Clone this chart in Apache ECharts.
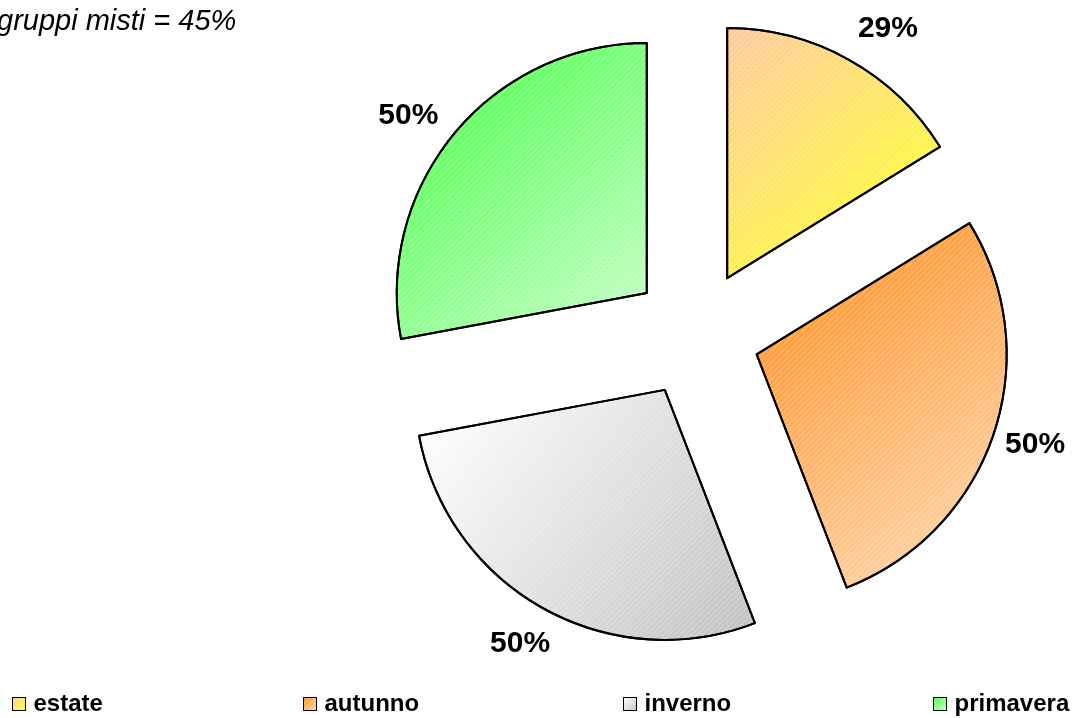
<!DOCTYPE html>
<html>
<head>
<meta charset="utf-8">
<script src="https://cdn.jsdelivr.net/npm/echarts@6/dist/echarts.min.js"></script>
<style>
  html, body { margin: 0; padding: 0; background: #fff; }
  #chart { width: 1079px; height: 718px; }
</style>
</head>
<body>
<div id="chart"></div>
<script>
// dati
var categories = ['estate', 'autunno', 'inverno', 'primavera'];
var values = [29, 50, 50, 50];
var titleText = 'gruppi misti = 45%';

// stile: colori del gradiente (alto-sinistra -> basso-destra)
var colorsFrom = ['#ffcc99', '#ff9933', '#ffffff', '#44ff44'];
var colorsTo = ['#ffff33', '#ffcc99', '#c0c0c0', '#ccffcc'];
var fromStop = [0.05, 0.18, 0.05, 0.05];
var toStop = [0.85, 0.8, 1, 1];
// stile: posizione legenda e piccoli spostamenti etichette
var legendLeft = [12, 303, 623, 933];
var labelNudge = [[16, 10], [-3, -4], [0, -6], [-10, 12]];

var chart = echarts.init(document.getElementById('chart'));

var hatch = {
  symbol: 'rect',
  symbolSize: 1,
  dashArrayX: [1, 0],
  dashArrayY: [1, 3],
  rotation: -Math.PI / 4,
  color: 'rgba(255,255,255,0.28)'
};

var pieData = categories.map(function (name, i) {
  return {
    name: name,
    value: values[i],
    selected: true,
    itemStyle: {
      color: new echarts.graphic.LinearGradient(0, 0, 1, 1, [
        { offset: fromStop[i], color: colorsFrom[i] },
        { offset: toStop[i], color: colorsTo[i] }
      ]),
      decal: hatch
    }
  };
});

var labelData = categories.map(function (name, i) {
  return { name: name, value: values[i], label: { offset: labelNudge[i] } };
});

var legends = categories.map(function (name, i) {
  return {
    data: [name],
    left: legendLeft[i],
    top: 692,
    padding: 0,
    icon: 'rect',
    itemWidth: 13,
    itemHeight: 13,
    itemGap: 0,
    selectedMode: false,
    itemStyle: { borderColor: '#000', borderWidth: 1 },
    textStyle: {
      fontFamily: 'Liberation Sans, Arial, sans-serif',
      fontWeight: 'bold',
      fontSize: 24,
      color: '#000',
      padding: [0, 0, 0, 3]
    }
  };
});

chart.setOption({
  animation: false,
  aria: { enabled: true, decal: { show: true } },
  title: {
    text: titleText,
    left: -3,
    top: 7,
    padding: 0,
    textStyle: {
      fontFamily: 'Liberation Sans, Arial, sans-serif',
      fontStyle: 'italic',
      fontWeight: 'normal',
      fontSize: 29,
      color: '#000'
    }
  },
  legend: legends,
  series: [
    {
      type: 'pie',
      center: [696, 334],
      radius: [0, 250],
      startAngle: 90,
      clockwise: true,
      selectedMode: 'multiple',
      selectedOffset: 64,
      emphasis: { disabled: true },
      itemStyle: { borderColor: '#000', borderWidth: 2 },
      label: { show: false },
      labelLine: { show: false },
      data: pieData
    },
    {
      // serie invisibile solo per le etichette
      type: 'pie',
      center: [696, 334],
      radius: [340, 376],
      startAngle: 90,
      clockwise: true,
      silent: true,
      emphasis: { disabled: true },
      itemStyle: {
        color: 'rgba(0,0,0,0)',
        borderWidth: 0,
        decal: { color: 'rgba(0,0,0,0)' }
      },
      label: {
        show: true,
        position: 'inside',
        formatter: '{c}%',
        fontFamily: 'Liberation Sans, Arial, sans-serif',
        fontWeight: 'bold',
        fontSize: 30,
        color: '#000'
      },
      labelLine: { show: false },
      data: labelData
    }
  ]
});
</script>
</body>
</html>
